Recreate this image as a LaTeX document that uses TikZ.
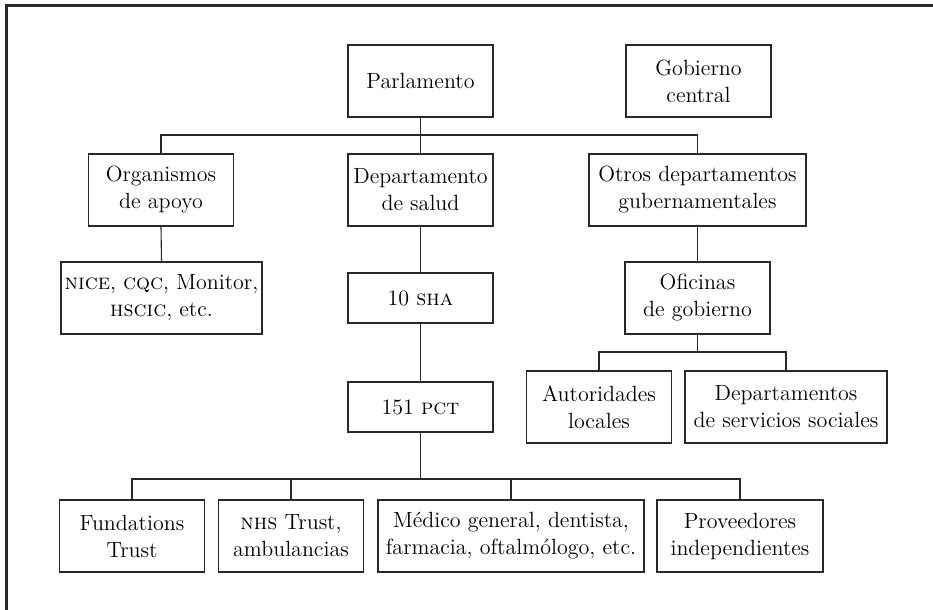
\documentclass[tikz,border=0pt]{standalone}
\usepackage{tikz}
\usetikzlibrary{positioning, calc}
\definecolor{orgInk}{RGB}{40, 40, 40}
\tikzset{
  orgBox/.style={
    draw=orgInk,
    line width=0.65pt,
    fill=white,
    align=center,
    inner sep=0pt,
    minimum height=36pt,
    minimum width=72.5pt,
    font=\fontsize{11}{13.5}\selectfont
  },
  orgSmall/.style={
    orgBox,
    minimum height=25pt
  },
  orgLine/.style={
    draw=orgInk,
    line width=0.55pt
  }
}

\begin{document}
\begin{tikzpicture}[x=0.5pt, y=-0.5pt]
  \useasboundingbox (0,0) rectangle (933,610);
  % frame
  \draw[orgLine, line width=1.3pt] (6.5,610) -- (6.5,5.5) -- (933,5.5);
  % top level
  \node[orgBox] (parl) at (420.5,81) {Parlamento};
  \node[orgBox] (gob) at (698.5,81) {Gobierno\\central};
  % second level
  \node[orgBox] (org) at (161,190) {Organismos\\de apoyo};
  \node[orgBox] (dep) at (420.5,190) {Departamento\\de salud};
  \node[orgBox, minimum width=108.5pt] (otros) at (697.5,190) {Otros departamentos\\gubernamentales};
  % third level
  \node[orgBox, minimum width=100.5pt] (nice) at (161.5,298) {\textsc{nice}, \textsc{cqc}, Monitor,\\\textsc{hscic}, etc.};
  \node[orgSmall] (sha) at (420.5,298) {10 \textsc{sha}};
  \node[orgBox] (ofi) at (697.5,298) {Oficinas\\de gobierno};
  % fourth level
  \node[orgSmall] (pct) at (420.5,407) {151 \textsc{pct}};
  \node[orgBox] (aut) at (599,407) {Autoridades\\locales};
  \node[orgBox, minimum width=101pt] (dss) at (786,407) {Departamentos\\de servicios sociales};
  % providers
  \node[orgBox] (fund) at (132,536) {Fundations\\Trust};
  \node[orgBox] (nhs) at (291,536) {\textsc{nhs} Trust,\\ambulancias};
  \node[orgBox, minimum width=133pt] (med) at (511,536) {Médico general, dentista,\\farmacia, oftalmólogo, etc.};
  \node[orgBox, minimum width=83pt] (prov) at (740,536) {Proveedores\\independientes};
  % buses
  \coordinate (busTop) at (parl.south |- 0,135);
  \coordinate (busOfi) at (ofi.south |- 0,352);
  \coordinate (busPct) at (pct.south |- 0,479);
  % connectors
  \draw[orgLine] (parl.south) -- (dep.north);
  \draw[orgLine] (org.north) |- (busTop) -| (otros.north);
  \draw[orgLine] (org.south) -- (nice.north);
  \draw[orgLine] (dep.south) -- (sha.north);
  \draw[orgLine] (sha.south) -- (pct.north);
  \draw[orgLine] (otros.south) -- (ofi.north);
  \draw[orgLine] (ofi.south) -- (busOfi);
  \draw[orgLine] (aut.north) |- (busOfi) -| (dss.north);
  \draw[orgLine] (pct.south) -- (busPct);
  \draw[orgLine] (fund.north) |- (busPct) -| (prov.north);
  \draw[orgLine] (nhs.north) -- (nhs.north |- busPct);
  \draw[orgLine] (med.north) -- (med.north |- busPct);
\end{tikzpicture}
\end{document}
